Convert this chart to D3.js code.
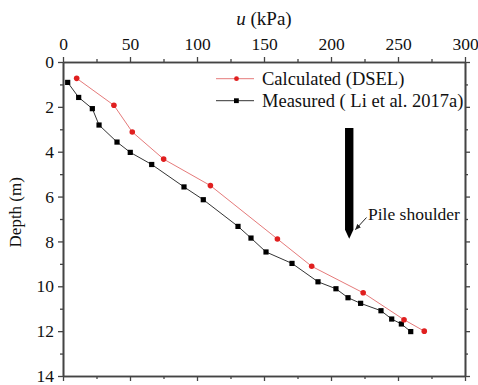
<!DOCTYPE html>
<html>
<head>
<meta charset="utf-8">
<script src="https://cdn.jsdelivr.net/npm/d3@7"></script>
<style>
  body { margin: 0; background: #fff; }
  text { font-family: "Liberation Serif", "Times New Roman", serif; fill: #111; }
</style>
</head>
<body>
<div id="display"></div>
<script>
// calculated (DSEL) series
const calcU = [10.2, 38, 51.7, 75.1, 110, 160, 185.6, 224, 254.5, 269.6];
const calcDepth = [0.73, 1.93, 3.12, 4.33, 5.51, 7.89, 9.11, 10.29, 11.49, 12.0];

// measured (Li et al. 2017a) series
const measU = [3.5, 11.7, 21.9, 26.9, 40.3, 50.2, 66.2, 90.3, 104.7, 130.6, 140.3, 151.5,
    170.9, 190.3, 203.7, 212.7, 222.1, 237.3, 245.3, 252.5, 259.5];
const measDepth = [0.91, 1.58, 2.08, 2.81, 3.57, 4.03, 4.57, 5.57, 6.14, 7.33, 7.85, 8.47,
    8.98, 9.80, 10.11, 10.51, 10.76, 11.09, 11.46, 11.68, 12.02];

const uTicks = [0, 50, 100, 150, 200, 250, 300];
const uMinor = [25, 75, 125, 175, 225, 275];
const depthTicks = [0, 2, 4, 6, 8, 10, 12, 14];
const depthMinor = [1, 3, 5, 7, 9, 11, 13];

const seriesNames = ['Calculated (DSEL)', 'Measured ( Li et al. 2017a)'];

// pile drawn in data units: centre u, top depth, taper start, tip
const pile = {u: 213.6, top: 2.94, taperStart: 7.48, tip: 7.88};

const W = 478, H = 385;
const svg = d3.select('#display').append('svg')
    .attr('width', W).attr('height', H);

const x = d3.scaleLinear().domain([0, 300]).range([63, 465]);
const y = d3.scaleLinear().domain([0, 14]).range([62, 376]);

const axisColor = '#444';

function styleAxis(g) {
    g.select('.domain').attr('stroke', axisColor).attr('stroke-width', 1.6);
    g.selectAll('.tick line').attr('stroke', axisColor).attr('stroke-width', 1.3);
    g.selectAll('.tick text').attr('font-size', 17.5).attr('fill', '#111');
}

// top axis with labels
svg.append('g').attr('transform', 'translate(0,' + y(0) + ')')
    .call(d3.axisTop(x).tickValues(uTicks).tickSize(5).tickPadding(7).tickSizeOuter(0))
    .call(styleAxis);
svg.append('g').attr('transform', 'translate(0,' + y(0) + ')')
    .call(d3.axisTop(x).tickValues(uMinor).tickSize(3).tickFormat('').tickSizeOuter(0))
    .call(styleAxis);

// bottom axis, no labels
svg.append('g').attr('transform', 'translate(0,' + y(14) + ')')
    .call(d3.axisBottom(x).tickValues(uTicks).tickSize(5).tickFormat('').tickSizeOuter(0))
    .call(styleAxis);
svg.append('g').attr('transform', 'translate(0,' + y(14) + ')')
    .call(d3.axisBottom(x).tickValues(uMinor).tickSize(3).tickFormat('').tickSizeOuter(0))
    .call(styleAxis);

// left axis with labels
svg.append('g').attr('transform', 'translate(' + x(0) + ',0)')
    .call(d3.axisLeft(y).tickValues(depthTicks).tickSize(5).tickPadding(4).tickSizeOuter(0))
    .call(styleAxis);
svg.append('g').attr('transform', 'translate(' + x(0) + ',0)')
    .call(d3.axisLeft(y).tickValues(depthMinor).tickSize(3).tickFormat('').tickSizeOuter(0))
    .call(styleAxis);

// right axis, no labels
svg.append('g').attr('transform', 'translate(' + x(300) + ',0)')
    .call(d3.axisRight(y).tickValues(depthTicks).tickSize(5).tickFormat('').tickSizeOuter(0))
    .call(styleAxis);
svg.append('g').attr('transform', 'translate(' + x(300) + ',0)')
    .call(d3.axisRight(y).tickValues(depthMinor).tickSize(3).tickFormat('').tickSizeOuter(0))
    .call(styleAxis);

// axis titles
let xt = svg.append('text')
    .attr('x', x(150)).attr('y', 25)
    .attr('text-anchor', 'middle')
    .attr('font-size', 19);
xt.append('tspan').attr('font-style', 'italic').text('u');
xt.append('tspan').text(' (kPa)');

svg.append('text')
    .attr('transform', 'translate(21,' + y(6.7) + ') rotate(-90)')
    .attr('text-anchor', 'middle')
    .attr('font-size', 17)
    .text('Depth (m)');

// series
let calc = calcU.map((u, i) => ({u: u, d: calcDepth[i]}));
let meas = measU.map((u, i) => ({u: u, d: measDepth[i]}));

let line = d3.line().x(d => x(d.u)).y(d => y(d.d));

svg.append('path').datum(meas)
    .attr('d', line).attr('fill', 'none')
    .attr('stroke', '#333').attr('stroke-width', 1);
svg.append('path').datum(calc)
    .attr('d', line).attr('fill', 'none')
    .attr('stroke', '#e57a7a').attr('stroke-width', 1);

svg.append('g').selectAll('rect')
    .data(meas)
    .join('rect')
        .attr('x', d => x(d.u) - 2.6)
        .attr('y', d => y(d.d) - 2.6)
        .attr('width', 5.2).attr('height', 5.2)
        .attr('fill', '#000');

svg.append('g').selectAll('circle')
    .data(calc)
    .join('circle')
        .attr('cx', d => x(d.u))
        .attr('cy', d => y(d.d))
        .attr('r', 2.8)
        .attr('fill', '#e01f1f');

// legend
let legend = svg.append('g');
[{name: seriesNames[0], line: '#e57a7a', mark: 'circle', cy: 78.7},
 {name: seriesNames[1], line: '#333', mark: 'rect', cy: 100.7}].forEach(l => {
    legend.append('line')
        .attr('x1', 216).attr('x2', 254)
        .attr('y1', l.cy).attr('y2', l.cy)
        .attr('stroke', l.line).attr('stroke-width', 1);
    if (l.mark === 'circle') {
        legend.append('circle').attr('cx', 236.5).attr('cy', l.cy).attr('r', 2.4).attr('fill', '#e01f1f');
    } else {
        legend.append('rect').attr('x', 234).attr('y', l.cy - 2.4)
            .attr('width', 4.8).attr('height', 4.8).attr('fill', '#000');
    }
    legend.append('text')
        .attr('x', 262).attr('y', l.cy).attr('dy', '0.35em')
        .attr('font-size', 18.5)
        .text(l.name);
});

// pile shoulder marker
let pw = 4.2;
let pc = x(pile.u);
svg.append('path')
    .attr('d', 'M' + (pc - pw) + ',' + y(pile.top)
        + 'L' + (pc + pw) + ',' + y(pile.top)
        + 'L' + (pc + pw) + ',' + y(pile.taperStart)
        + 'L' + pc + ',' + y(pile.tip)
        + 'L' + (pc - pw) + ',' + y(pile.taperStart) + 'Z')
    .attr('fill', '#000');

svg.append('defs').append('marker')
    .attr('id', 'arrow')
    .attr('viewBox', '0 0 10 10')
    .attr('refX', 9).attr('refY', 5)
    .attr('markerWidth', 6).attr('markerHeight', 6)
    .attr('orient', 'auto')
  .append('path')
    .attr('d', 'M0,1L10,5L0,9Z')
    .attr('fill', '#222');

svg.append('line')
    .attr('x1', 366.5).attr('y1', 217.5)
    .attr('x2', 355.5).attr('y2', 229.5)
    .attr('stroke', '#222').attr('stroke-width', 1)
    .attr('marker-end', 'url(#arrow)');

svg.append('text')
    .attr('x', 368).attr('y', 220)
    .attr('font-size', 17.5)
    .text('Pile shoulder');
</script>
</body>
</html>
